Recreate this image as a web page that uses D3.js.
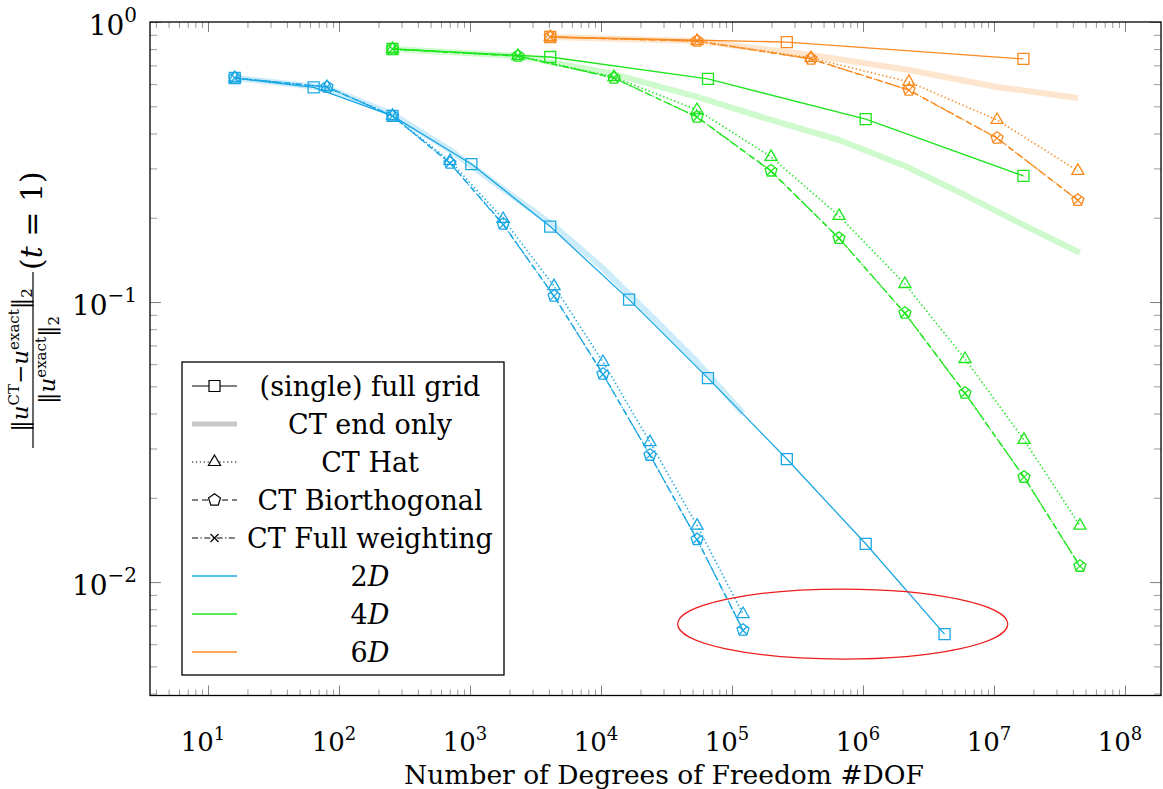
<!DOCTYPE html>
<html>
<head>
<meta charset="utf-8">
<script src="https://cdn.jsdelivr.net/npm/d3@7"></script>
<style>
  body { margin: 0; background: #fff; }
  text { font-family: "DejaVu Serif", serif; fill: #000; }
</style>
</head>
<body>
<div id="chart"></div>
<script>
// ---- data ----
// 2D
const dof2dFull = [16, 64, 256, 1024, 4096, 16384, 65536, 262144, 1048576, 4194304];
const err2dFull = [0.631, 0.584, 0.462, 0.311, 0.186, 0.102, 0.0535, 0.0275, 0.0137, 0.00652];
const dof2dCT = [16, 81, 256, 703, 1790, 4380, 10350, 23650, 54100, 121400];
const err2dEnd = [0.631, 0.581, 0.469, 0.349, 0.253, 0.187, 0.132, 0.090, 0.0611, 0.0401];
const err2dHat = [0.631, 0.586, 0.462, 0.319, 0.198, 0.114, 0.0611, 0.0316, 0.0159, 0.00769];
const err2dBior = [0.631, 0.586, 0.462, 0.3135, 0.190, 0.105, 0.0553, 0.0284, 0.0142, 0.00674];
const err2dFW = [0.631, 0.586, 0.462, 0.313, 0.189, 0.105, 0.0552, 0.0284, 0.0142, 0.00672];
// 4D
const dof4dFull = [256, 4096, 65536, 1048576, 16777216];
const err4dFull = [0.801, 0.750, 0.626, 0.450, 0.282];
const dof4dCT = [256, 2320, 12560, 54100, 198600, 656000, 2090000, 6010000, 16950000, 45300000];
const err4dEnd = [0.801, 0.756, 0.652, 0.540, 0.447, 0.379, 0.306, 0.241, 0.188, 0.150];
const err4dHat = [0.801, 0.756, 0.636, 0.485, 0.330, 0.203, 0.116, 0.0626, 0.0322, 0.0159];
const err4dBior = [0.801, 0.756, 0.631, 0.458, 0.294, 0.169, 0.0913, 0.0473, 0.0237, 0.0114];
const err4dFW = [0.801, 0.756, 0.631, 0.458, 0.293, 0.169, 0.0912, 0.0472, 0.0237, 0.0114];
// 6D
const dof6dFull = [4096, 262144, 16777216];
const err6dFull = [0.884, 0.848, 0.738];
const dof6dCT = [4096, 54100, 401000, 2240000, 10550000, 43700000];
const err6dEnd = [0.884, 0.855, 0.762, 0.674, 0.586, 0.535];
const err6dHat = [0.884, 0.855, 0.744, 0.611, 0.447, 0.294];
const err6dBior = [0.884, 0.855, 0.738, 0.572, 0.385, 0.231];
const err6dFW = [0.884, 0.855, 0.738, 0.571, 0.385, 0.231];

const xMajor = [1e1, 1e2, 1e3, 1e4, 1e5, 1e6, 1e7, 1e8];
const yMajor = [1, 0.1, 0.01];
const legendLabels = ["(single) full grid", "CT end only", "CT Hat", "CT Biorthogonal", "CT Full weighting", "2", "4", "6"];

// ---- layout ----
const W = 1163, H = 789;
const plot = {left: 150, right: 1161, top: 22, bottom: 695.5};

const colors = {d2: "#1aa7e4", d4: "#1ee61e", d6: "#f98a1f"};

const svg = d3.select("#chart").append("svg")
    .attr("width", W)
    .attr("height", H);

const x = d3.scaleLog()
    .domain([Math.pow(10, 0.557), Math.pow(10, 8.275)])
    .range([plot.left, plot.right]);
const y = d3.scaleLog()
    .domain([Math.pow(10, -2.405), 1])
    .range([plot.bottom, plot.top]);

// minor ticks (2..9 of each decade inside the domain)
function minorTicks(scale){
    let d = scale.domain(), lo = Math.min(d[0], d[1]), hi = Math.max(d[0], d[1]);
    let out = [];
    for (let e = Math.floor(Math.log10(lo)); e <= Math.ceil(Math.log10(hi)); e++) {
        for (let k = 2; k <= 9; k++) {
            let v = k * Math.pow(10, e);
            if (v >= lo && v <= hi) out.push(v);
        }
    }
    return out;
}

// axes: ticks inward on all four sides
function drawAxis(axisFn, scale, values, size, transform, color){
    let g = svg.append("g")
        .attr("transform", transform)
        .call(axisFn(scale).tickValues(values).tickSize(size).tickFormat(""));
    g.select(".domain").remove();
    g.selectAll("line").attr("stroke", color).attr("stroke-width", 1);
}
drawAxis(d3.axisBottom, x, minorTicks(x), -6, `translate(0,${plot.bottom})`, "#9a9a9a");
drawAxis(d3.axisBottom, x, xMajor, -10, `translate(0,${plot.bottom})`, "#808080");
drawAxis(d3.axisTop, x, minorTicks(x), -6, `translate(0,${plot.top})`, "#9a9a9a");
drawAxis(d3.axisTop, x, xMajor, -10, `translate(0,${plot.top})`, "#808080");
drawAxis(d3.axisLeft, y, minorTicks(y), -7, `translate(${plot.left},0)`, "#9a9a9a");
drawAxis(d3.axisLeft, y, yMajor, -11, `translate(${plot.left},0)`, "#808080");
drawAxis(d3.axisRight, y, minorTicks(y), -7, `translate(${plot.right},0)`, "#9a9a9a");
drawAxis(d3.axisRight, y, yMajor, -11, `translate(${plot.right},0)`, "#808080");

// tick labels
xMajor.forEach(v => {
    let t = svg.append("text")
        .attr("x", x(v) - 5)
        .attr("y", 751)
        .attr("text-anchor", "middle")
        .style("font-size", "26px")
        .text("10");
    t.append("tspan").attr("dy", -11).style("font-size", "18px").text(Math.round(Math.log10(v)));
});
yMajor.forEach(v => {
    let p = Math.round(Math.log10(v));
    let t = svg.append("text")
        .attr("x", 137)
        .attr("y", y(v) + 13)
        .attr("text-anchor", "end")
        .style("font-size", "28px")
        .text("10");
    t.append("tspan").attr("dy", -13).style("font-size", "20px").text(p === 0 ? "0" : "\u2212" + Math.abs(p));
});

// axis titles
svg.append("text")
    .attr("x", 664)
    .attr("y", 784)
    .attr("text-anchor", "middle")
    .style("font-size", "26.5px")
    .text("Number of Degrees of Freedom #DOF");

let yl = svg.append("g").attr("transform", "translate(33,0) rotate(-90)");
let num = yl.append("text")
    .attr("x", -360).attr("y", -5)
    .attr("text-anchor", "middle")
    .style("font-size", "23px");
num.append("tspan").text("\u2016");
num.append("tspan").style("font-style", "italic").text("u");
num.append("tspan").attr("dy", -9).style("font-size", "15px").text("CT");
num.append("tspan").attr("dy", 9).text("\u2212");
num.append("tspan").style("font-style", "italic").text("u");
num.append("tspan").attr("dy", -9).style("font-size", "15px").text("exact");
num.append("tspan").attr("dy", 9).text("\u2016");
num.append("tspan").attr("dy", 4).style("font-size", "15px").text("2");
yl.append("line")
    .attr("x1", -448).attr("x2", -272)
    .attr("y1", 0).attr("y2", 0)
    .attr("stroke", "#000").attr("stroke-width", 1.2);
let den = yl.append("text")
    .attr("x", -360).attr("y", 22)
    .attr("text-anchor", "middle")
    .style("font-size", "23px");
den.append("tspan").text("\u2016");
den.append("tspan").style("font-style", "italic").text("u");
den.append("tspan").attr("dy", -9).style("font-size", "15px").text("exact");
den.append("tspan").attr("dy", 9).text("\u2016");
den.append("tspan").attr("dy", 4).style("font-size", "15px").text("2");
let par = yl.append("text")
    .attr("x", -270).attr("y", 9)
    .style("font-size", "30px");
par.append("tspan").text("(");
par.append("tspan").style("font-style", "italic").text("t");
par.append("tspan").text(" = 1)");

// ---- marks ----
function markPath(type){
    if (type === "square") return "M-5.5,-5.5H5.5V5.5H-5.5Z";
    if (type === "triangle") {
        let r = 7;
        return "M0," + (-r) + "L" + (r * 0.866) + "," + (r / 2) + "L" + (-r * 0.866) + "," + (r / 2) + "Z";
    }
    if (type === "pentagon") {
        let r = 6.3, pts = [];
        for (let i = 0; i < 5; i++) {
            let a = -Math.PI / 2 + i * 2 * Math.PI / 5;
            pts.push((r * Math.cos(a)).toFixed(2) + "," + (r * Math.sin(a)).toFixed(2));
        }
        return "M" + pts.join("L") + "Z";
    }
    if (type === "x") return "M-4,-4L4,4M-4,4L4,-4";
    return "";
}

const styles = {
    full: {dash: null, width: 1.3, mark: "square"},
    end: {dash: null, width: 6, mark: null, opacity: 0.22},
    hat: {dash: "1.3,2.6", width: 1.7, mark: "triangle"},
    bior: {dash: "6,4", width: 1.3, mark: "pentagon"},
    fw: {dash: "6,2.5,1.3,2.5", width: 1.3, mark: "x"}
};

const line = d3.line()
    .x(d => x(d[0]))
    .y(d => y(d[1]));

const plotArea = svg.append("g").attr("class", "plot");

function drawSeries(xs, ys, color, kind){
    let st = styles[kind];
    let pts = xs.map((v, i) => [v, ys[i]]);
    plotArea.append("path")
        .datum(pts)
        .attr("d", line)
        .attr("fill", "none")
        .attr("stroke", color)
        .attr("stroke-width", st.width)
        .attr("stroke-opacity", st.opacity || 1)
        .attr("stroke-linejoin", "round")
        .attr("stroke-dasharray", st.dash);
    if (st.mark) {
        plotArea.selectAll(null)
            .data(pts)
            .enter().append("path")
            .attr("transform", d => `translate(${x(d[0])},${y(d[1])})`)
            .attr("d", markPath(st.mark))
            .attr("fill", "none")
            .attr("stroke", color)
            .attr("stroke-width", 1.3);
    }
}

drawSeries(dof2dFull, err2dFull, colors.d2, "full");
drawSeries(dof2dCT, err2dEnd, colors.d2, "end");
drawSeries(dof2dCT, err2dHat, colors.d2, "hat");
drawSeries(dof2dCT, err2dBior, colors.d2, "bior");
drawSeries(dof2dCT, err2dFW, colors.d2, "fw");

drawSeries(dof4dFull, err4dFull, colors.d4, "full");
drawSeries(dof4dCT, err4dEnd, colors.d4, "end");
drawSeries(dof4dCT, err4dHat, colors.d4, "hat");
drawSeries(dof4dCT, err4dBior, colors.d4, "bior");
drawSeries(dof4dCT, err4dFW, colors.d4, "fw");

drawSeries(dof6dFull, err6dFull, colors.d6, "full");
drawSeries(dof6dCT, err6dEnd, colors.d6, "end");
drawSeries(dof6dCT, err6dHat, colors.d6, "hat");
drawSeries(dof6dCT, err6dBior, colors.d6, "bior");
drawSeries(dof6dCT, err6dFW, colors.d6, "fw");

// red ellipse annotation round the last 2D points
const ellCx = 7.0e5, ellCy = 0.00708;
svg.append("ellipse")
    .attr("cx", x(ellCx))
    .attr("cy", y(ellCy))
    .attr("rx", x(ellCx * Math.pow(10, 1.26)) - x(ellCx))
    .attr("ry", y(ellCy) - y(ellCy * Math.pow(10, 0.125)))
    .attr("fill", "none")
    .attr("stroke", "#ee1c1c")
    .attr("stroke-width", 1.3);

// frame
svg.append("rect")
    .attr("x", plot.left)
    .attr("y", plot.top)
    .attr("width", plot.right - plot.left)
    .attr("height", plot.bottom - plot.top)
    .attr("fill", "none")
    .attr("stroke", "#000")
    .attr("stroke-width", 1.3);

// ---- legend ----
const leg = svg.append("g").attr("class", "legend");
leg.append("rect")
    .attr("x", 182).attr("y", 362)
    .attr("width", 322).attr("height", 313)
    .attr("fill", "#fff")
    .attr("stroke", "#000")
    .attr("stroke-width", 1.3);

const legKinds = ["full", "end", "hat", "bior", "fw", "d2", "d4", "d6"];
legKinds.forEach((k, i) => {
    let cy = 386 + i * 38;
    let st = styles[k];
    let col = st ? (k === "end" ? "#c8c8c8" : "#000") : colors[k];
    leg.append("line")
        .attr("x1", 192).attr("x2", 237)
        .attr("y1", cy).attr("y2", cy)
        .attr("stroke", col)
        .attr("stroke-width", st ? (k === "end" ? 5 : 1.2) : 1.4)
        .attr("stroke-dasharray", st ? st.dash : null);
    if (st && st.mark) {
        leg.append("path")
            .attr("transform", `translate(214.5,${cy})`)
            .attr("d", markPath(st.mark))
            .attr("fill", "#fff")
            .attr("stroke", "#000")
            .attr("stroke-width", 1.2);
    }
    let t = leg.append("text")
        .attr("x", 370)
        .attr("y", cy + 9.5)
        .attr("text-anchor", "middle")
        .style("font-size", "27px");
    if (i < 5) {
        t.text(legendLabels[i]);
    } else {
        t.append("tspan").text(legendLabels[i]);
        t.append("tspan").style("font-style", "italic").text("D");
    }
});
</script>
</body>
</html>
